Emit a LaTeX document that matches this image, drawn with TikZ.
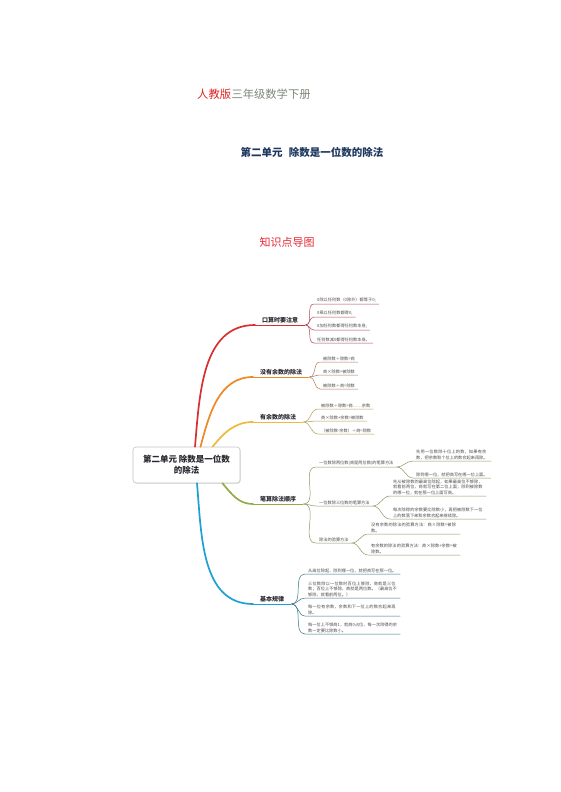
\documentclass[tikz,border=0pt]{standalone}
\usepackage{fontspec}
\setmainfont{Noto Sans CJK SC}
\XeTeXlinebreaklocale "zh"
\XeTeXlinebreakskip = 0pt plus 1pt
\usepackage{xcolor}
\usepackage{tikz}
\usetikzlibrary{positioning, shadows}

\definecolor{pepred}{RGB}{222,35,35}
\definecolor{booktext}{RGB}{125,135,120}
\definecolor{unitblue}{RGB}{30,55,95}
\definecolor{mapred}{RGB}{230,40,50}
\definecolor{boxgray}{RGB}{195,195,195}
\definecolor{topictext}{RGB}{40,40,48}
\definecolor{leaftext}{RGB}{75,75,75}
\definecolor{cRed}{RGB}{214,48,49}
\definecolor{cOrange}{RGB}{238,136,36}
\definecolor{cGold}{RGB}{236,186,60}
\definecolor{cOlive}{RGB}{145,172,70}
\definecolor{cBlue}{RGB}{30,160,210}
\definecolor{lRed}{RGB}{170,75,85}
\definecolor{lOrange}{RGB}{175,120,90}
\definecolor{lGold}{RGB}{180,155,90}
\definecolor{lOlive}{RGB}{140,150,95}
\definecolor{lBlue}{RGB}{50,115,135}

\begin{document}
\begin{tikzpicture}[x=1pt, y=-1pt,
                title/.style={inner sep=0pt},
                topic/.style={rectangle, rounded corners=3pt, draw=boxgray, line width=0.6pt, fill=white, drop shadow={opacity=0.2, shadow xshift=0.8pt, shadow yshift=-0.8pt}, minimum width=107pt, minimum height=36pt, align=center, font=\fontsize{8.5}{11}\selectfont\bfseries, text=topictext},
                branch/.style={anchor=south west, inner xsep=7pt, inner ysep=1.6pt, font=\fontsize{6}{7}\selectfont\bfseries, text=topictext},
                leafnode/.style={anchor=south west, inner xsep=3pt, inner ysep=1.3pt, align=left, font=\fontsize{4.2}{5.3}\selectfont, text=leaftext},
                mainpath/.style={line width=1.7pt, line cap=round},
                subpath/.style={line width=0.5pt}
            ]
                \useasboundingbox (0,0) rectangle (560,792);

                % Titles
                \node[title, anchor=base west, font=\fontsize{11.3}{12}\selectfont, text=pepred] (pep) at (197,98) {人教版};
                \node[title, anchor=base west, font=\fontsize{11.3}{12}\selectfont, text=booktext] (book) at (pep.base east) {三年级数学下册};
                \node[title, font=\fontsize{10.5}{12}\selectfont\bfseries, text=unitblue] (unit) at (312,152) {第二单元\hspace{0.6em}除数是一位数的除法};
                \node[title, font=\fontsize{11}{12}\selectfont, text=mapred] (mapname) at (287,242) {知识点导图};

                % Nodes
                \node[topic] (root) at (186.5,465) {第二单元 除数是一位数\\的除法};

                \node[branch] (b1) at (255,325) {口算时要注意};
                \node[branch] (b2) at (253,377) {没有余数的除法};
                \node[branch] (b3) at (253,422) {有余数的除法};
                \node[branch] (b4) at (253,504) {笔算除法顺序};
                \node[branch] (b5) at (253,604) {基本规律};

                \node[leafnode] (l11) at (314,304) {0除以任何数（0除外）都等于0;};
                \node[leafnode] (l12) at (314,317) {0乘以任何数都得0;};
                \node[leafnode] (l13) at (314,330) {0加任何数都得任何数本身;};
                \node[leafnode] (l14) at (314,343) {任何数减0都得任何数本身。};

                \node[leafnode] (l21) at (320,362) {被除数÷除数=商};
                \node[leafnode] (l22) at (320,375) {商×除数=被除数};
                \node[leafnode] (l23) at (320,389) {被除数÷商=除数};

                \node[leafnode] (l31) at (318,409) {被除数÷除数=商……余数};
                \node[leafnode] (l32) at (318,421) {商×除数+余数=被除数};
                \node[leafnode] (l33) at (318,434) {（被除数-余数）÷商=除数};

                \node[leafnode] (s41) at (316,467) {一位数除两位数(商是两位数)的笔算方法};
                \node[leafnode] (s42) at (316,506) {一位数除三位数的笔算方法};
                \node[leafnode] (s43) at (316,543) {除法的验算方法};

                \node[leafnode, text width=72pt] (l411) at (413,461) {先用一位数除十位上的数，如果有余数，把余数和个位上的数合起来再除。};
                \node[leafnode] (l412) at (413,478) {除到哪一位，就把商写在哪一位上面。};
                \node[leafnode, text width=90pt] (l421) at (390,496) {先从被除数的最高位除起，如果最高位不够除，就看前两位，商就写在第二位上面；除到被除数的哪一位，就在那一位上面写商。};
                \node[leafnode, text width=90pt] (l422) at (390,519) {每次除得的余数要比除数小，再把被除数下一位上的数落下来和余数合起来继续除。};
                \node[leafnode, text width=86pt] (l431) at (368,534) {没有余数的除法的验算方法：商×除数=被除数。};
                \node[leafnode, text width=86pt] (l432) at (368,555) {有余数的除法的验算方法：商×除数+余数=被除数。};

                \node[leafnode, text width=89pt] (l51) at (305,574) {从高位除起，除到哪一位，就把商写在那一位。};
                \node[leafnode, text width=89pt] (l52) at (305,598) {三位数除以一位数时百位上够除，商就是三位数；百位上不够除，商就是两位数。（最高位不够除，就看前两位。）};
                \node[leafnode, text width=89pt] (l53) at (305,616) {每一位有余数，余数和下一位上的数合起来再除。};
                \node[leafnode, text width=89pt] (l54) at (305,634) {每一位上不够商1，就商0占位，每一次除得的余数一定要比除数小。};

                % Paths: main branches
                \draw[mainpath, cRed] ([xshift=8.5]root.north) to[out=85, in=180] (b1.south west);
                \draw[mainpath, cOrange] ([xshift=14]root.north) to[out=75, in=180] (b2.south west);
                \draw[mainpath, cGold] ([xshift=26]root.north) to[out=50, in=180] (b3.south west);
                \draw[mainpath, cOlive] ([xshift=36]root.south) to[out=-50, in=180] (b4.south west);
                \draw[mainpath, cBlue] ([xshift=10.5]root.south) to[out=-85, in=180] (b5.south west);

                \draw[subpath, cRed] (b1.south west) -- (b1.south east);
                \draw[subpath, cOrange] (b2.south west) -- (b2.south east);
                \draw[subpath, cGold] (b3.south west) -- (b3.south east);
                \draw[subpath, cOlive] (b4.south west) -- (b4.south east);
                \draw[subpath, cBlue] (b5.south west) -- (b5.south east);

                % Paths: leaves
                \foreach \leaf in {l11, l12, l13, l14} {
                    \draw[subpath, lRed] (b1.south east) to[out=0, in=180] (\leaf.south west) -- (\leaf.south east);
                }
                \foreach \leaf in {l21, l22, l23} {
                    \draw[subpath, lOrange] (b2.south east) to[out=0, in=180] (\leaf.south west) -- (\leaf.south east);
                }
                \foreach \leaf in {l31, l32, l33} {
                    \draw[subpath, lGold] (b3.south east) to[out=0, in=180] (\leaf.south west) -- (\leaf.south east);
                }
                \foreach \leaf in {s41, s42, s43} {
                    \draw[subpath, lOlive] (b4.south east) to[out=0, in=180] (\leaf.south west) -- (\leaf.south east);
                }
                \foreach \leaf in {l411, l412} {
                    \draw[subpath, lOlive] (s41.south east) to[out=0, in=180] (\leaf.south west) -- (\leaf.south east);
                }
                \foreach \leaf in {l421, l422} {
                    \draw[subpath, lOlive] (s42.south east) to[out=0, in=180] (\leaf.south west) -- (\leaf.south east);
                }
                \foreach \leaf in {l431, l432} {
                    \draw[subpath, lOlive] (s43.south east) to[out=0, in=180] (\leaf.south west) -- (\leaf.south east);
                }
                \foreach \leaf in {l51, l52, l53, l54} {
                    \draw[subpath, lBlue] (b5.south east) to[out=0, in=180] (\leaf.south west) -- (\leaf.south east);
                }
            \end{tikzpicture}
\end{document}
